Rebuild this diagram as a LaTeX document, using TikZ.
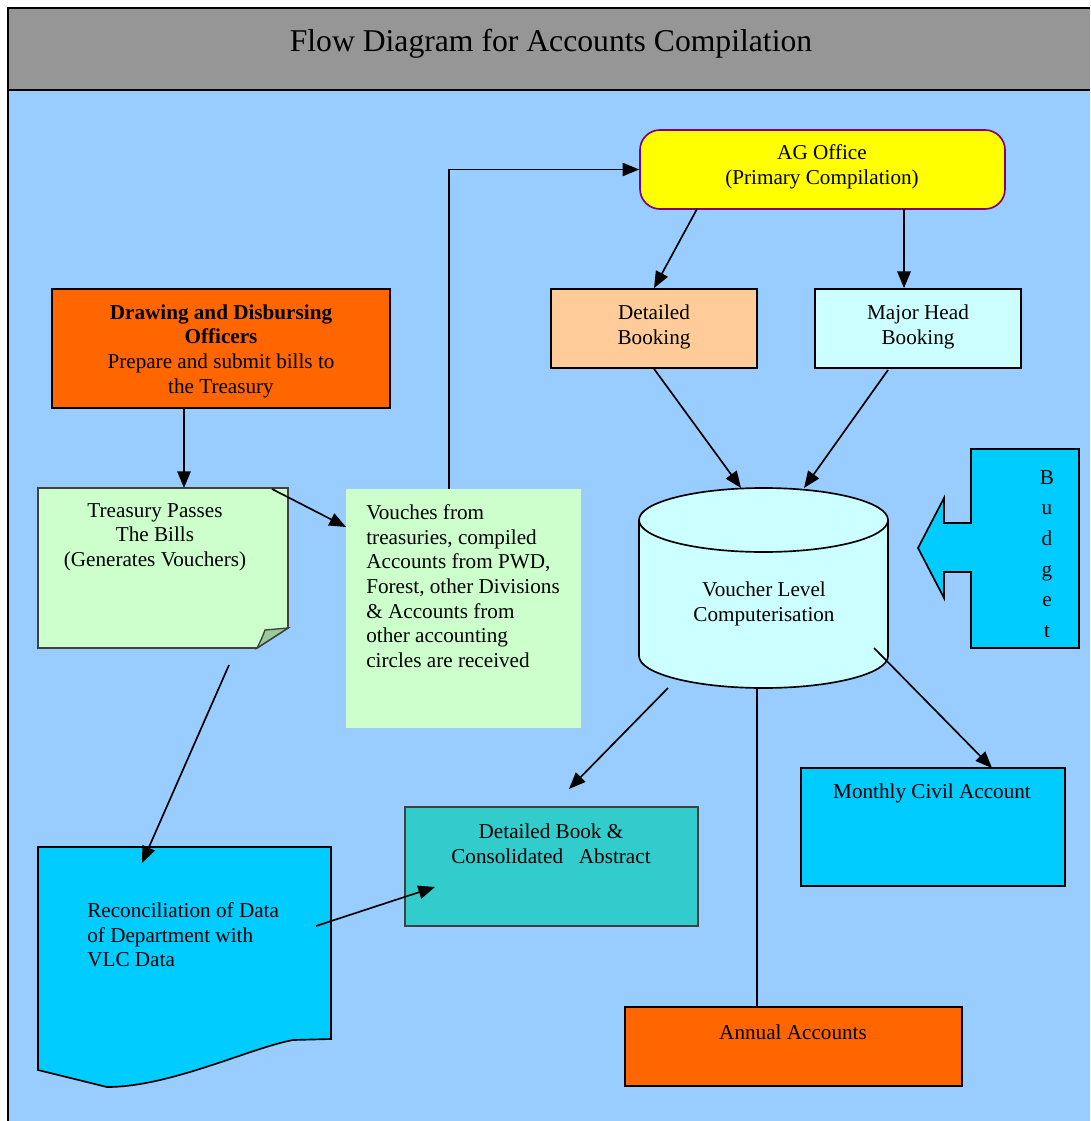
\documentclass[tikz,border=0pt]{standalone}
\usepackage{fontspec}
\setmainfont{Liberation Serif}
\usetikzlibrary{arrows.meta,fit}
\definecolor{titlegray}{HTML}{969696}
\definecolor{bodyblue}{HTML}{99CCFF}
\definecolor{ddoorange}{HTML}{FF6600}
\definecolor{peach}{HTML}{FFCC99}
\definecolor{lcyan}{HTML}{CCFFFF}
\definecolor{lgreen}{HTML}{CCFFCC}
\definecolor{foldgreen}{HTML}{99CC99}
\definecolor{agyellow}{HTML}{FFFF00}
\definecolor{agpurple}{HTML}{800080}
\definecolor{skycyan}{HTML}{00CCFF}
\definecolor{teal}{HTML}{33CCCC}
\definecolor{edgegray}{HTML}{404040}

\begin{document}
\begin{tikzpicture}[x=0.6pt,y=-0.6pt,
  font=\fontsize{12.7}{14.8}\selectfont,
  box/.style={draw=black,line width=1pt,inner sep=0pt},
  txt/.style={inner sep=0pt,align=center},
  arr/.style={line width=1pt,-{Triangle[length=10pt,width=8pt]}}]
\useasboundingbox (0,0) rectangle (1090,1121);
\fill[titlegray] (8,8) rectangle (1090,90);
\fill[bodyblue] (8,90) rectangle (1090,1121);
\draw[line width=1pt] (1090,8) -- (8,8) -- (8,1121) (8,90) -- (1090,90);
\node[txt,font=\fontsize{19}{23}\selectfont] (title) at (551,44) {Flow Diagram for Accounts Compilation};

% boxes
\node[box,fill=agyellow,draw=agpurple,rounded corners=12pt,fit={(640,130)(1005,209)}] (ag) {};
\node[txt] (agt) at (822,167) {AG Office\\(Primary Compilation)};
\node[box,fill=peach,fit={(551,289)(757,368)}] (det) {};
\node[txt] (dett) at (654,327) {Detailed\\Booking};
\node[box,fill=lcyan,fit={(815,289)(1021,368)}] (major) {};
\node[txt] (majort) at (918,327) {Major Head\\Booking};
\node[box,fill=ddoorange,fit={(52,289)(390,408)}] (ddo) {};
\node[txt] (ddot) at (221,351) {\textbf{Drawing and Disbursing}\\\textbf{Officers}\\Prepare and submit bills to\\the Treasury};
\node[fill=lgreen,inner sep=0pt,fit={(346,489)(581,728)}] (vouch) {};
\node[txt,align=left,anchor=west] (voucht) at (366,586) {Vouches from\\treasuries, compiled\\Accounts from PWD,\\Forest, other Divisions\\\& Accounts from\\other accounting\\circles are received};
\node[box,fill=skycyan,fit={(801,768)(1065,886)}] (monthly) {};
\node[txt] (monthlyt) at (932,793) {Monthly Civil Account};
\node[box,fill=teal,draw=edgegray,fit={(405,807)(698,926)}] (book) {};
\node[txt] (bookt) at (551,844) {Detailed Book \&\\Consolidated\ \ \ Abstract};
\node[box,fill=ddoorange,fit={(625,1007)(962,1086)}] (annual) {};
\node[txt] (annualt) at (793,1032) {Annual Accounts};

% treasury note with folded corner
\draw[line width=1pt,draw=edgegray,fill=lgreen] (38,488) -- (288,488) -- (288,628) -- (257,648) -- (38,648) -- cycle;
\draw[line width=0.8pt,draw=edgegray,fill=foldgreen] (257,648) .. controls (262,638) .. (265,630) -- (288,628) -- cycle;
\node[txt] (treas) at (155,537) {Treasury Passes\\The Bills\\(Generates Vouchers)};

% reconciliation document
\draw[line width=1pt,fill=skycyan] (38,847) -- (331,847) -- (331,1039) -- (293,1040)
  .. controls (250,1048) and (170,1087) .. (107,1087) -- (38,1070) -- cycle;
\node[txt,align=left,anchor=west] (recon) at (87,935) {Reconciliation of Data\\of Department with\\VLC Data};

% voucher level computerisation
\draw[line width=1pt,fill=lcyan] (639,520) -- (639,656) arc[start angle=180,end angle=0,x radius=124.5,y radius=32]
  -- (888,520) arc[start angle=360,end angle=180,x radius=124.5,y radius=32] -- cycle;
\draw[line width=1pt] (639,520) arc[start angle=180,end angle=0,x radius=124.5,y radius=32];
\node[txt] (vlc) at (764,604) {Voucher Level\\Computerisation};

% budget
\draw[line width=1pt,fill=skycyan] (971,449) -- (1079,449) -- (1079,648) -- (971,648) -- (971,572)
  -- (944,572) -- (944,598) -- (918,548) -- (944,498) -- (944,523) -- (971,523) -- cycle;
\node[txt,font=\fontsize{12.7}{18.4}\selectfont] (budget) at (1047,554) {B\\u\\d\\g\\e\\t};

% connector ends
\coordinate (ddoout) at (184,408);
\coordinate (treasin) at (184,488);
\coordinate (treascorner) at (272,489);
\coordinate (vouchin) at (346,527);
\coordinate (vouchtop) at (449,489);
\coordinate (agleft) at (697,209);
\coordinate (agright) at (904,209);
\coordinate (cyltopl) at (741,488);
\coordinate (majorout) at (888,370);
\coordinate (cyltopr) at (804,488);
\coordinate (cylbl) at (668,688);
\coordinate (bookin) at (569,789);
\coordinate (cylbr) at (874,648);
\coordinate (monthin) at (992,768);
\coordinate (cylbot) at (757,688);
\coordinate (treasout) at (229,665);
\coordinate (reconin) at (142,863);
\coordinate (reconout) at (316,926);
\coordinate (bookin2) at (435,887);

\draw[arr] (ddoout) -- (treasin);
\draw[arr] (treascorner) -- (vouchin);
\draw[arr] (vouchtop) |- (ag.west);
\draw[arr] (agleft) -- (det.north);
\draw[arr] (agright) -- (agright |- major.north);
\draw[arr] (det.south) -- (cyltopl);
\draw[arr] (majorout) -- (cyltopr);
\draw[arr] (cylbl) -- (bookin);
\draw[arr] (cylbr) -- (monthin);
\draw[line width=1pt] (cylbot) -- (cylbot |- annual.north);
\draw[arr] (treasout) -- (reconin);
\draw[arr] (reconout) -- (bookin2);
\end{tikzpicture}
\end{document}
